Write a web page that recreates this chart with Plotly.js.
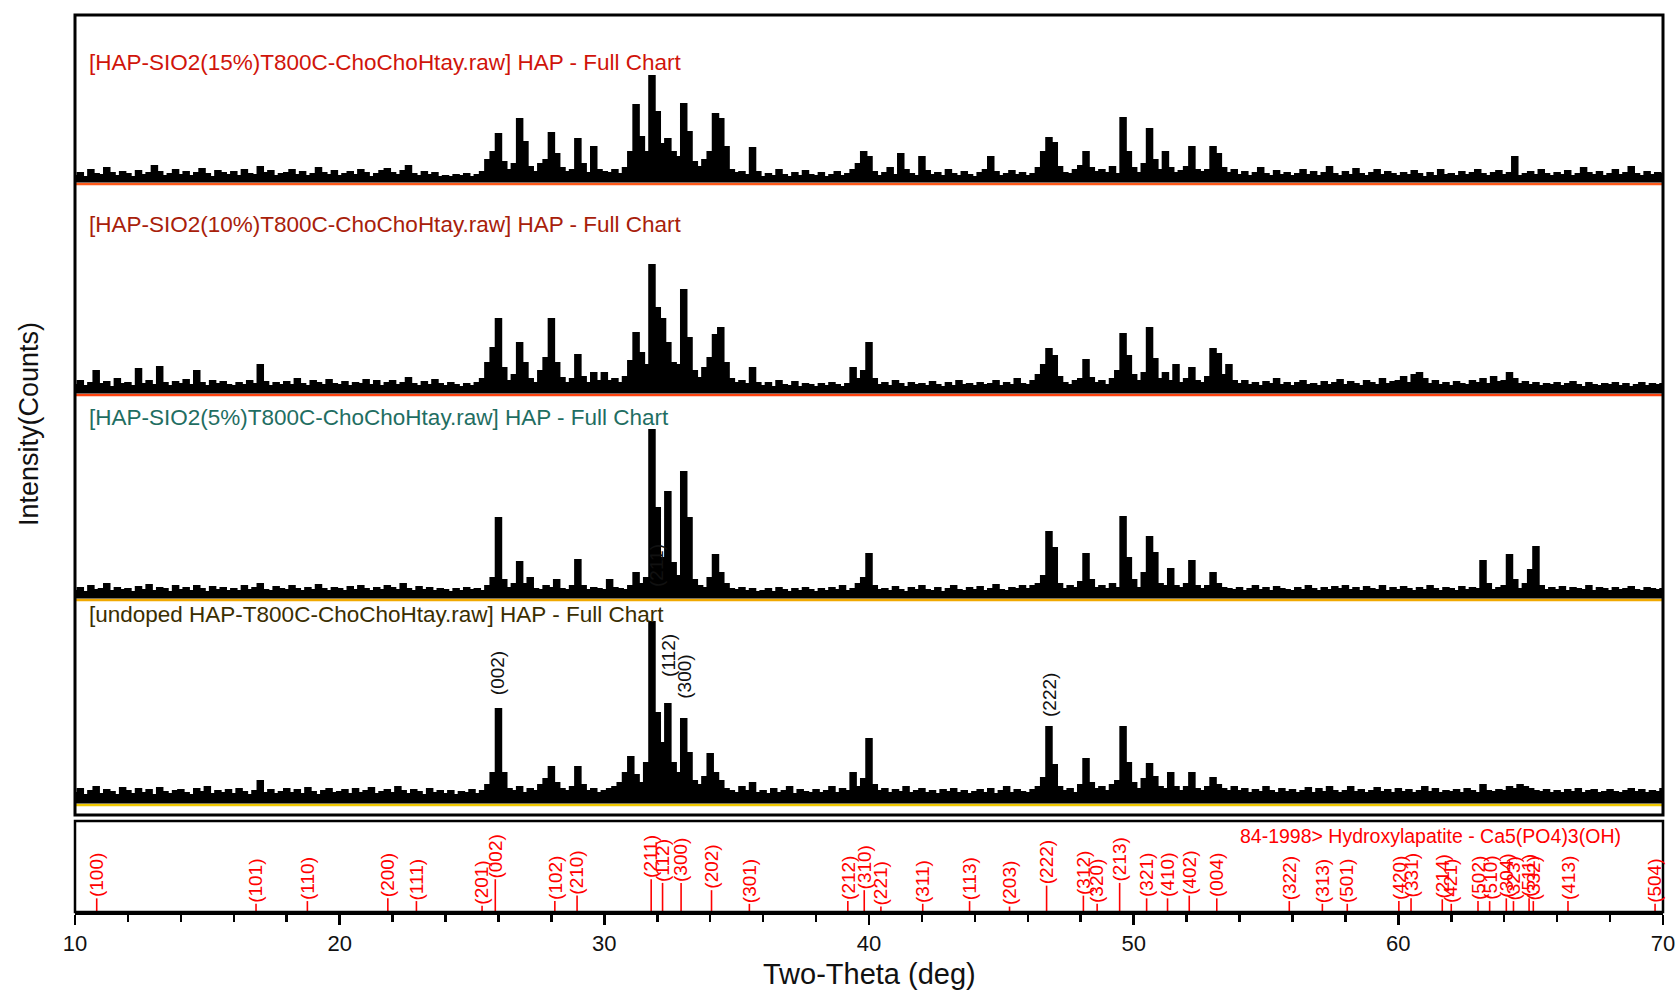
<!DOCTYPE html>
<html><head><meta charset="utf-8">
<script src="https://cdn.plot.ly/plotly-3.0.1.min.js"></script>
<style>html,body{margin:0;padding:0;background:#fff}</style>
</head><body><div id="chart" style="width:1675px;height:992px"></div>
<script>
// Sampling grid of the scans (deg 2-theta)
const START = 10, STEP = 0.2;

// Intensities (relative counts above background), one value per step
const p15 = [
6,9,5,12,8,7,14,9,6,10,
8,5,11,7,9,16,10,6,8,12,
7,10,6,9,13,8,5,11,9,7,
10,6,12,8,7,15,9,11,6,8,
9,12,7,10,6,8,14,9,7,11,
6,8,10,7,12,9,5,8,11,13,
9,7,11,16,8,6,10,7,9,5,
6,5,7,6,8,5,7,10,22,30,
48,20,12,18,63,40,15,10,18,22,
49,28,14,10,12,43,18,9,35,12,
10,9,12,8,14,30,77,45,30,106,
70,38,43,30,25,78,50,20,15,22,
30,68,63,35,12,9,10,7,34,10,
5,8,6,12,7,5,9,6,11,7,
6,9,5,7,10,6,8,12,18,30,
25,10,6,9,14,7,28,12,8,6,
25,11,7,9,6,12,8,6,10,7,
5,9,12,25,10,6,8,11,7,9,
6,8,14,30,44,39,15,9,8,12,
16,30,14,10,12,9,15,8,64,30,
14,9,18,53,22,12,30,14,9,11,
15,35,12,10,12,35,28,14,9,12,
7,10,6,9,14,8,6,11,7,9,
6,8,12,7,10,6,9,15,8,6,
10,7,13,8,6,9,12,7,10,8,
6,9,7,11,8,5,9,6,12,7,
8,6,10,7,9,12,8,6,9,11,
7,9,25,6,8,10,7,12,8,6,
9,7,11,6,8,14,9,7,10,6,
8,12,7,9,15,8,6,10,7,9,
8];

const p10 = [
8,12,7,10,22,9,11,6,14,9,
10,7,24,9,12,8,26,10,7,11,
9,13,8,22,10,7,12,9,11,8,
7,10,8,12,9,28,11,7,10,8,
11,8,14,9,7,12,10,8,13,9,
8,11,7,10,9,13,8,12,7,10,
12,8,10,15,9,7,11,8,13,9,
7,10,8,6,9,7,10,14,30,45,
74,25,12,18,50,30,14,10,22,35,
74,30,15,10,14,38,16,10,20,12,
20,12,14,10,16,32,60,40,28,128,
85,74,50,30,28,103,55,22,15,25,
35,58,65,30,14,10,12,9,25,10,
7,10,6,12,8,7,11,6,9,8,
6,9,7,10,8,6,9,25,14,22,
50,14,8,10,7,12,9,6,10,8,
9,7,11,8,6,10,7,12,8,9,
7,10,8,9,12,7,10,8,14,9,
8,12,18,28,44,37,16,10,8,12,
14,33,15,10,12,8,14,22,59,37,
18,12,20,65,34,14,20,12,28,10,
14,25,12,10,16,44,39,18,28,12,
9,12,8,10,7,11,9,14,8,10,
7,10,12,8,9,7,11,8,10,13,
8,11,9,7,12,10,8,14,9,11,
12,16,10,18,20,14,9,12,8,10,
7,11,9,8,12,10,14,9,16,11,
12,20,14,9,11,8,10,7,9,8,
10,7,9,11,8,6,10,8,7,9,
8,10,7,9,6,8,10,7,9,8,
9];

const p5 = [
7,10,6,12,8,9,14,7,10,8,
9,6,11,8,13,7,10,9,6,12,
8,10,7,12,9,6,11,8,10,7,
9,7,12,8,10,14,8,7,11,9,
8,12,9,7,10,8,13,9,7,10,
9,7,11,8,12,9,7,10,8,12,
10,8,14,9,7,11,8,10,7,9,
8,6,9,7,10,8,9,7,12,20,
80,18,10,14,36,14,20,9,8,12,
10,18,9,8,12,38,12,8,10,9,
8,18,10,9,8,12,25,14,20,168,
90,40,106,35,22,126,80,18,12,10,
20,43,25,14,9,8,10,7,9,6,
7,9,6,10,8,6,9,7,10,8,
6,9,7,10,8,12,7,9,14,20,
44,12,8,9,7,11,8,6,10,8,
12,8,7,10,6,9,12,8,7,10,
8,11,7,9,13,8,7,10,9,12,
9,12,14,22,66,50,14,9,12,10,
16,44,18,10,12,9,14,10,81,40,
18,10,25,61,45,14,12,29,12,10,
14,37,12,9,12,25,14,10,9,8,
10,7,9,12,8,10,7,11,9,8,
7,10,8,12,9,7,10,8,11,9,
12,8,10,7,11,9,8,12,7,10,
8,11,9,7,10,8,12,9,7,10,
9,7,11,8,10,9,37,14,8,10,
12,43,18,9,14,28,51,12,8,10,
8,11,7,10,9,8,12,7,10,9,
7,10,8,9,11,8,7,10,9,8,
9];

const p0 = [
10,14,8,12,16,9,13,11,8,15,
12,9,14,10,13,8,15,11,9,12,
13,10,8,14,11,16,9,12,10,13,
9,14,11,8,12,22,10,13,9,11,
14,10,13,9,15,11,8,12,14,10,
11,13,9,14,10,12,15,9,11,13,
10,16,12,9,13,11,8,14,10,12,
9,12,8,11,10,13,9,12,18,30,
94,30,14,12,16,10,14,12,18,24,
36,20,14,12,16,36,18,12,14,10,
12,14,16,20,30,46,28,20,40,181,
90,60,99,40,30,84,50,22,18,26,
49,30,22,14,12,10,16,12,20,10,
12,9,14,10,12,16,9,13,11,10,
13,10,12,16,10,14,12,30,16,24,
64,18,12,14,10,13,11,16,10,12,
14,10,12,9,13,11,14,10,12,9,
11,13,10,14,9,12,16,10,13,11,
10,13,16,25,76,38,16,12,14,10,
18,44,20,14,16,12,18,22,76,40,
20,14,24,39,26,16,14,30,16,12,
16,30,14,12,16,25,18,14,12,16,
12,14,10,13,11,16,12,10,14,11,
13,10,12,15,10,14,11,16,12,10,
12,16,11,13,10,12,15,11,13,10,
14,11,13,10,12,16,11,14,10,12,
11,13,10,14,12,10,18,12,11,13,
12,16,14,18,16,14,12,11,13,10,
12,10,13,11,14,10,12,13,10,11,
13,11,10,12,14,11,13,10,12,11,
14];

const patternNames = [
  "[HAP-SIO2(15%)T800C-ChoChoHtay.raw] HAP - Full Chart",
  "[HAP-SIO2(10%)T800C-ChoChoHtay.raw] HAP - Full Chart",
  "[HAP-SIO2(5%)T800C-ChoChoHtay.raw] HAP - Full Chart",
  "[undoped HAP-T800C-ChoChoHtay.raw] HAP - Full Chart"
];

// Reference card 84-1998 Hydroxylapatite
const refPos = [10.82,16.84,18.78,21.82,22.90,25.38,25.88,28.13,28.97,31.77,32.20,32.90,34.05,35.48,39.20,39.82,40.45,42.03,43.80,45.31,46.71,48.10,48.62,49.47,50.49,51.28,52.10,53.14,55.88,57.13,58.07,60.02,60.48,61.66,62.00,63.01,63.45,64.08,64.35,64.94,65.10,66.41,69.70];
const refHkl = ['(100)','(101)','(110)','(200)','(111)','(201)','(002)','(102)','(210)','(211)','(112)','(300)','(202)','(301)','(212)','(310)','(221)','(311)','(113)','(203)','(222)','(312)','(320)','(213)','(321)','(410)','(402)','(004)','(322)','(313)','(501)','(420)','(331)','(214)','(421)','(502)','(510)','(304)','(323)','(511)','(332)','(413)','(504)'];
const refInt = [15,9,12,15,12,7,36,12,18,36,32,32,24,9,12,24,6,9,12,6,29,18,9,32,15,15,18,15,12,9,9,12,15,14,9,12,12,15,12,15,12,12,9];
const refTitle = "84-1998> Hydroxylapatite - Ca5(PO4)3(OH)";

// hkl marks on the undoped pattern
const markHkl = ['(002)','(211)','(112)','(300)','(222)'];
const markPos = [25.95, 31.95, 32.4, 33.0, 46.8];

// ---------- styling / layout (not data) ----------
const series = [p15, p10, p5, p0];
const offsets = [633, 422, 217, 12];
const fringe = ['#ff5a1a', '#ff4410', '#f0a800', '#f0c800'];
const nameColors = ['#d0140a', '#a8200a', '#1f6e62', '#3a2e00'];
const nameY = [753, 591, 398, 201];
const markY = [142, 250, 160, 138, 120];
const xEnd = START + STEP * (p15.length - 1);

const traces = [];
series.forEach((vals, k) => {
  const off = offsets[k];
  traces.push({
    x: [START, xEnd], y: [off - 2, off - 2],
    xaxis: 'x', yaxis: 'y', mode: 'lines',
    line: {color: fringe[k], width: 2.5}, hoverinfo: 'skip', showlegend: false
  });
  traces.push({
    x: [START, xEnd], y: [off + 2.5, off + 2.5],
    xaxis: 'x', yaxis: 'y', mode: 'lines',
    line: {color: 'black', width: 6}, hoverinfo: 'skip', showlegend: false
  });
  traces.push({
    x0: START, dx: STEP, y: vals.map(v => v + off),
    xaxis: 'x', yaxis: 'y', mode: 'lines',
    line: {color: 'black', width: 2.2, shape: 'hvh'},
    fill: 'tonexty', fillcolor: 'black', showlegend: false
  });
});

// reference sticks
const sx = [], sy = [];
refPos.forEach((p, i) => { sx.push(p, p, null); sy.push(0, refInt[i], null); });
traces.push({x: sx, y: sy, xaxis: 'x', yaxis: 'y2', mode: 'lines',
  line: {color: '#ff0000', width: 1.6}, showlegend: false, hoverinfo: 'skip'});

const annotations = [];
patternNames.forEach((t, k) => annotations.push({
  text: t, x: 10.45, y: nameY[k], xref: 'x', yref: 'y', xanchor: 'left', yanchor: 'middle',
  showarrow: false, font: {family: 'Arial, Liberation Sans', size: 22.5, color: nameColors[k]}
}));
refPos.forEach((p, i) => annotations.push({
  text: refHkl[i], x: p, y: refInt[i], xref: 'x', yref: 'y2', textangle: -90,
  xanchor: 'center', yanchor: 'bottom', showarrow: false, borderpad: 0,
  font: {family: 'Arial, Liberation Sans', size: 19, color: '#ff0000'}
}));
markHkl.forEach((t, i) => annotations.push({
  text: t, x: markPos[i], y: markY[i], xref: 'x', yref: 'y', textangle: -90,
  xanchor: 'center', yanchor: 'middle', showarrow: false, borderpad: 0,
  font: {family: 'Arial, Liberation Sans', size: 19, color: '#111'}
}));
annotations.push({text: refTitle, x: 68.5, y: 84, xref: 'x', yref: 'y2', xanchor: 'right', yanchor: 'middle',
  showarrow: false, font: {family: 'Arial, Liberation Sans', size: 19.5, color: '#ff0000'}});
annotations.push({text: 'Intensity(Counts)', x: -0.029, y: 0.544, xref: 'paper', yref: 'paper',
  textangle: -90, xanchor: 'center', yanchor: 'middle', showarrow: false,
  font: {family: 'Arial, Liberation Sans', size: 27, color: '#111'}});
annotations.push({text: 'Two-Theta (deg)', x: 0.5, y: -0.069, xref: 'paper', yref: 'paper',
  xanchor: 'center', yanchor: 'middle', showarrow: false,
  font: {family: 'Arial, Liberation Sans', size: 29, color: '#111'}});

const layout = {
  width: 1675, height: 992,
  margin: {l: 75, r: 12, t: 15, b: 80},
  paper_bgcolor: 'white', plot_bgcolor: 'white',
  showlegend: false,
  xaxis: {range: [9.9999, 70.0001], anchor: 'y2', showline: true, linecolor: 'black', linewidth: 2.5,
    ticks: 'outside', ticklen: 10, tickwidth: 2.5, tickcolor: 'black', tick0: 10, dtick: 10,
    tickmode: 'array', tickvals: [10, 20, 30, 40, 50, 60, 70], ticktext: ['10', '20', '30', '40', '50', '60', '70'],
    ticklabeloverflow: 'allow',
    minor: {tickmode: 'array', tickvals: [12,14,16,18,22,24,26,28,32,34,36,38,42,44,46,48,52,54,56,58,62,64,66,68],
      ticks: 'outside', ticklen: 7, tickwidth: 2.5, tickcolor: 'black'},
    showgrid: false, zeroline: false,
    tickfont: {family: 'Arial, Liberation Sans', size: 22, color: '#111'}},
  yaxis: {domain: [0.1081, 1], range: [0, 800], showticklabels: false, showgrid: false,
    zeroline: false, ticks: ''},
  yaxis2: {domain: [0, 0.1014], range: [0, 100], showticklabels: false, showgrid: false,
    zeroline: false, ticks: ''},
  shapes: [
    {type: 'rect', xref: 'x domain', yref: 'y domain', x0: 0, x1: 1, y0: 0, y1: 1,
      line: {color: 'black', width: 3}},
    {type: 'rect', xref: 'x domain', yref: 'y2 domain', x0: 0, x1: 1, y0: 0, y1: 1,
      line: {color: 'black', width: 2.5}}
  ],
  annotations: annotations
};

Plotly.newPlot('chart', traces, layout, {displayModeBar: false, staticPlot: true});
</script>
</body></html>
